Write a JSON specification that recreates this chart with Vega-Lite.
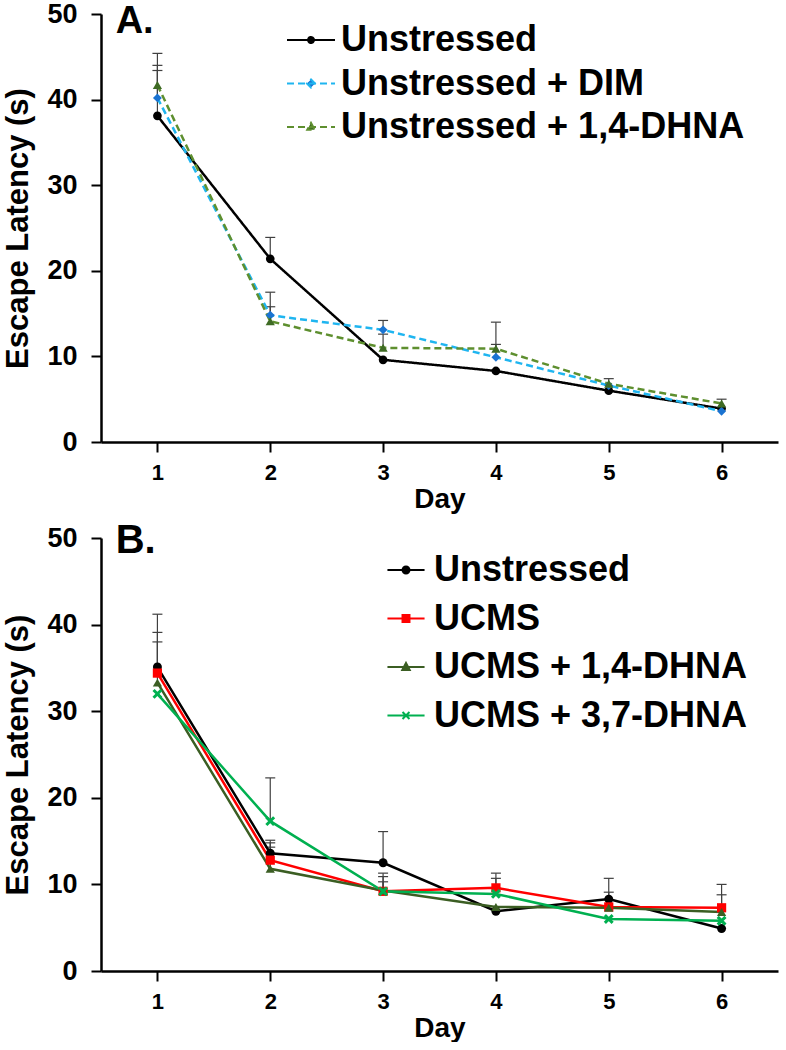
{
  "$schema": "https://vega.github.io/schema/vega-lite/v6.json",
  "background": "white",
  "padding": {"top": 0, "left": 2, "right": 2, "bottom": 0},
  "spacing": 7,
  "config": {
    "font": "Liberation Sans",
    "view": {"stroke": null},
    "axis": {
      "grid": false,
      "domainColor": "black",
      "domainWidth": 2.5,
      "tickColor": "black",
      "tickWidth": 2,
      "tickSize": 10,
      "labelColor": "black",
      "labelFontWeight": "bold",
      "titleColor": "black",
      "titleFontWeight": "bold",
      "labelFont": "Liberation Sans",
      "titleFont": "Liberation Sans"
    },
    "legend": {"labelFont": "Liberation Sans"}
  },
  "datasets": {
    "A": [
      {"series": "Unstressed", "day": 1, "mean": 38.1, "upper": 43.4},
      {"series": "Unstressed", "day": 2, "mean": 21.4, "upper": 23.9},
      {"series": "Unstressed", "day": 3, "mean": 9.6, "upper": null},
      {"series": "Unstressed", "day": 4, "mean": 8.3, "upper": null},
      {"series": "Unstressed", "day": 5, "mean": 6.0, "upper": null},
      {"series": "Unstressed", "day": 6, "mean": 3.9, "upper": null},
      {"series": "Unstressed + DIM", "day": 1, "mean": 40.2, "upper": 44.0},
      {"series": "Unstressed + DIM", "day": 2, "mean": 14.8, "upper": 17.5},
      {"series": "Unstressed + DIM", "day": 3, "mean": 13.1, "upper": 14.2},
      {"series": "Unstressed + DIM", "day": 4, "mean": 9.9, "upper": 11.4},
      {"series": "Unstressed + DIM", "day": 5, "mean": 6.6, "upper": null},
      {"series": "Unstressed + DIM", "day": 6, "mean": 3.6, "upper": null},
      {"series": "Unstressed + 1,4-DHNA", "day": 1, "mean": 41.7, "upper": 45.4},
      {"series": "Unstressed + 1,4-DHNA", "day": 2, "mean": 14.1, "upper": 15.8},
      {"series": "Unstressed + 1,4-DHNA", "day": 3, "mean": 11.0, "upper": 12.6},
      {"series": "Unstressed + 1,4-DHNA", "day": 4, "mean": 10.9, "upper": 14.0},
      {"series": "Unstressed + 1,4-DHNA", "day": 5, "mean": 6.8, "upper": 7.4},
      {"series": "Unstressed + 1,4-DHNA", "day": 6, "mean": 4.5, "upper": 5.0}
    ],
    "B": [
      {"series": "Unstressed", "day": 1, "mean": 35.1, "upper": 41.2},
      {"series": "Unstressed", "day": 2, "mean": 13.6, "upper": 15.1},
      {"series": "Unstressed", "day": 3, "mean": 12.5, "upper": 16.1},
      {"series": "Unstressed", "day": 4, "mean": 6.9, "upper": null},
      {"series": "Unstressed", "day": 5, "mean": 8.3, "upper": 10.7},
      {"series": "Unstressed", "day": 6, "mean": 4.9, "upper": null},
      {"series": "UCMS", "day": 1, "mean": 34.4, "upper": 39.1},
      {"series": "UCMS", "day": 2, "mean": 12.8, "upper": 14.8},
      {"series": "UCMS", "day": 3, "mean": 9.2, "upper": 11.3},
      {"series": "UCMS", "day": 4, "mean": 9.6, "upper": 11.3},
      {"series": "UCMS", "day": 5, "mean": 7.4, "upper": 9.1},
      {"series": "UCMS", "day": 6, "mean": 7.3, "upper": 10.0},
      {"series": "UCMS + 1,4-DHNA", "day": 1, "mean": 33.3, "upper": 38.0},
      {"series": "UCMS + 1,4-DHNA", "day": 2, "mean": 11.8, "upper": 14.3},
      {"series": "UCMS + 1,4-DHNA", "day": 3, "mean": 9.3, "upper": 10.9},
      {"series": "UCMS + 1,4-DHNA", "day": 4, "mean": 7.4, "upper": null},
      {"series": "UCMS + 1,4-DHNA", "day": 5, "mean": 7.3, "upper": null},
      {"series": "UCMS + 1,4-DHNA", "day": 6, "mean": 6.8, "upper": 8.8},
      {"series": "UCMS + 3,7-DHNA", "day": 1, "mean": 32.0, "upper": null},
      {"series": "UCMS + 3,7-DHNA", "day": 2, "mean": 17.3, "upper": 22.3},
      {"series": "UCMS + 3,7-DHNA", "day": 3, "mean": 9.2, "upper": 10.3},
      {"series": "UCMS + 3,7-DHNA", "day": 4, "mean": 8.9, "upper": 10.7},
      {"series": "UCMS + 3,7-DHNA", "day": 5, "mean": 6.0, "upper": null},
      {"series": "UCMS + 3,7-DHNA", "day": 6, "mean": 5.8, "upper": null}
    ],
    "labelA": [{"label": "A."}],
    "labelB": [{"label": "B."}]
  },
  "resolve": {
    "scale": {"color": "independent", "strokeDash": "independent"},
    "legend": {"color": "independent"}
  },
  "vconcat": [
    {
      "width": 677,
      "height": 428,
      "data": {"name": "A"},
      "layer": [
        {
          "transform": [{"filter": "datum.upper != null"}],
          "mark": {"type": "rule", "color": "#404040", "strokeWidth": 1.2},
          "encoding": {
            "x": {"field": "day", "type": "quantitative", "scale": {"domain": [0.5, 6.5], "nice": false},
              "axis": {"values": [1, 2, 3, 4, 5, 6], "format": "d", "title": "Day", "labelFontSize": 22, "titleFontSize": 28, "labelPadding": 10, "titlePadding": 2}},
            "y": {"field": "mean", "type": "quantitative", "scale": {"domain": [0, 50], "nice": false},
              "axis": {"values": [0, 10, 20, 30, 40, 50], "title": "Escape Latency (s)", "labelFontSize": 27, "titleFontSize": 31, "labelPadding": 14, "titlePadding": 12}},
            "y2": {"field": "upper"}
          }
        },
        {
          "transform": [{"filter": "datum.upper != null"}],
          "mark": {"type": "point", "shape": "M-1,0H1", "size": 100, "filled": false, "stroke": "#404040", "strokeWidth": 1.2, "opacity": 1},
          "encoding": {
            "x": {"field": "day", "type": "quantitative"},
            "y": {"field": "upper", "type": "quantitative"}
          }
        },
        {
          "mark": {"type": "line", "strokeWidth": 2.5},
          "encoding": {
            "x": {"field": "day", "type": "quantitative"},
            "y": {"field": "mean", "type": "quantitative"},
            "color": {"field": "series", "type": "nominal",
              "scale": {"domain": ["Unstressed", "Unstressed + DIM", "Unstressed + 1,4-DHNA"], "range": ["#000000", "#1fb5f0", "#5e8f2f"]},
              "legend": {
                "orient": "none", "legendX": 192, "legendY": 8, "title": null, "padding": 0,
                "symbolSize": 900, "symbolType": "M-1.6,0H1.6",
                "labelFontSize": 36, "labelFontWeight": "bold", "labelColor": "black", "labelOffset": 12, "rowPadding": 7.5,
                "labelLimit": 600,
                "encode": {"symbols": {"update": {
                  "shape": {"signal": "datum.value === 'Unstressed' ? 'M-1.6,0H1.6M-0.2,0A0.2,0.2 0 1,0 0.2,0A0.2,0.2 0 1,0 -0.2,0Z' : datum.value === 'Unstressed + DIM' ? 'M-1.6,0H1.6M0,-0.27L0.27,0L0,0.27L-0.27,0Z' : 'M-1.6,0H1.6M0,-0.28L0.25,0.18H-0.25Z'"},
                  "fill": {"signal": "datum.value === 'Unstressed' ? '#000000' : datum.value === 'Unstressed + DIM' ? '#1a73d1' : '#3f6b24'"},
                  "stroke": {"signal": "datum.value === 'Unstressed' ? '#000000' : datum.value === 'Unstressed + DIM' ? '#1fb5f0' : '#5e8f2f'"},
                  "strokeWidth": {"value": 2},
                  "strokeDash": {"signal": "datum.value === 'Unstressed' ? [1, 0] : [4, 3]"},
                  "opacity": {"value": 1}
                }}}
              }},
            "strokeDash": {"field": "series", "type": "nominal",
              "scale": {"domain": ["Unstressed", "Unstressed + DIM", "Unstressed + 1,4-DHNA"], "range": [[1, 0], [7, 4], [7, 4]]},
              "legend": null}
          }
        },
        {
          "transform": [{"filter": "datum.series === 'Unstressed'"}],
          "mark": {"type": "point", "filled": true, "size": 75, "opacity": 1, "shape": "circle", "color": "#000000"},
          "encoding": {"x": {"field": "day", "type": "quantitative"}, "y": {"field": "mean", "type": "quantitative"}}
        },
        {
          "transform": [{"filter": "datum.series === 'Unstressed + DIM'"}],
          "mark": {"type": "point", "filled": true, "size": 80, "opacity": 1, "shape": "diamond", "color": "#1a73d1"},
          "encoding": {"x": {"field": "day", "type": "quantitative"}, "y": {"field": "mean", "type": "quantitative"}}
        },
        {
          "transform": [{"filter": "datum.series === 'Unstressed + 1,4-DHNA'"}],
          "mark": {"type": "point", "filled": true, "size": 85, "opacity": 1, "shape": "triangle-up", "color": "#3f6b24"},
          "encoding": {"x": {"field": "day", "type": "quantitative"}, "y": {"field": "mean", "type": "quantitative"}}
        },
        {
          "data": {"name": "labelA"},
          "mark": {"type": "text", "fontSize": 38, "fontWeight": "bold", "align": "left", "baseline": "alphabetic", "color": "black"},
          "encoding": {
            "x": {"datum": 0.63, "type": "quantitative"},
            "y": {"datum": 47.8, "type": "quantitative"},
            "text": {"field": "label"}
          }
        }
      ]
    },
    {
      "width": 677,
      "height": 433,
      "data": {"name": "B"},
      "layer": [
        {
          "transform": [{"filter": "datum.upper != null"}],
          "mark": {"type": "rule", "color": "#404040", "strokeWidth": 1.2},
          "encoding": {
            "x": {"field": "day", "type": "quantitative", "scale": {"domain": [0.5, 6.5], "nice": false},
              "axis": {"values": [1, 2, 3, 4, 5, 6], "format": "d", "title": "Day", "labelFontSize": 22, "titleFontSize": 28, "labelPadding": 10, "titlePadding": 2}},
            "y": {"field": "mean", "type": "quantitative", "scale": {"domain": [0, 50], "nice": false},
              "axis": {"values": [0, 10, 20, 30, 40, 50], "title": "Escape Latency (s)", "labelFontSize": 27, "titleFontSize": 31, "labelPadding": 14, "titlePadding": 12}},
            "y2": {"field": "upper"}
          }
        },
        {
          "transform": [{"filter": "datum.upper != null"}],
          "mark": {"type": "point", "shape": "M-1,0H1", "size": 100, "filled": false, "stroke": "#404040", "strokeWidth": 1.2, "opacity": 1},
          "encoding": {
            "x": {"field": "day", "type": "quantitative"},
            "y": {"field": "upper", "type": "quantitative"}
          }
        },
        {
          "mark": {"type": "line", "strokeWidth": 2.5},
          "encoding": {
            "x": {"field": "day", "type": "quantitative"},
            "y": {"field": "mean", "type": "quantitative"},
            "color": {"field": "series", "type": "nominal",
              "scale": {"domain": ["Unstressed", "UCMS", "UCMS + 1,4-DHNA", "UCMS + 3,7-DHNA"], "range": ["#000000", "#ff0000", "#3b5e23", "#00b050"]},
              "legend": {
                "orient": "none", "legendX": 287, "legendY": 14, "title": null, "padding": 0,
                "symbolSize": 538, "symbolType": "M-1.6,0H1.6",
                "labelFontSize": 36, "labelFontWeight": "bold", "labelColor": "black", "labelOffset": 10, "rowPadding": 12.5,
                "labelLimit": 600,
                "encode": {"symbols": {"update": {
                  "shape": {"signal": "datum.value === 'Unstressed' ? 'M-1.6,0H1.6M-0.3,0A0.3,0.3 0 1,0 0.3,0A0.3,0.3 0 1,0 -0.3,0Z' : datum.value === 'UCMS' ? 'M-1.6,0H1.6M-0.3,-0.3H0.3V0.3H-0.3Z' : datum.value === 'UCMS + 1,4-DHNA' ? 'M-1.6,0H1.6M0,-0.35L0.32,0.25H-0.32Z' : 'M-1.6,0H1.6M-0.3,-0.3L0.3,0.3M-0.3,0.3L0.3,-0.3'"},
                  "fill": {"signal": "datum.value === 'Unstressed' ? '#000000' : datum.value === 'UCMS' ? '#ff0000' : datum.value === 'UCMS + 1,4-DHNA' ? '#3b5e23' : '#00b050'"},
                  "stroke": {"signal": "datum.value === 'Unstressed' ? '#000000' : datum.value === 'UCMS' ? '#ff0000' : datum.value === 'UCMS + 1,4-DHNA' ? '#3b5e23' : '#00b050'"},
                  "strokeWidth": {"value": 2},
                  "opacity": {"value": 1}
                }}}
              }}
          }
        },
        {
          "transform": [{"filter": "datum.series === 'Unstressed'"}],
          "mark": {"type": "point", "filled": true, "size": 80, "opacity": 1, "shape": "circle", "color": "#000000"},
          "encoding": {"x": {"field": "day", "type": "quantitative"}, "y": {"field": "mean", "type": "quantitative"}}
        },
        {
          "transform": [{"filter": "datum.series === 'UCMS'"}],
          "mark": {"type": "point", "filled": true, "size": 85, "opacity": 1, "shape": "square", "color": "#ff0000"},
          "encoding": {"x": {"field": "day", "type": "quantitative"}, "y": {"field": "mean", "type": "quantitative"}}
        },
        {
          "transform": [{"filter": "datum.series === 'UCMS + 1,4-DHNA'"}],
          "mark": {"type": "point", "filled": true, "size": 85, "opacity": 1, "shape": "triangle-up", "color": "#3b5e23"},
          "encoding": {"x": {"field": "day", "type": "quantitative"}, "y": {"field": "mean", "type": "quantitative"}}
        },
        {
          "transform": [{"filter": "datum.series === 'UCMS + 3,7-DHNA'"}],
          "mark": {"type": "point", "filled": false, "size": 60, "opacity": 1, "shape": "M-1,-1L1,1M-1,1L1,-1", "color": "#00b050", "strokeWidth": 3},
          "encoding": {"x": {"field": "day", "type": "quantitative"}, "y": {"field": "mean", "type": "quantitative"}}
        },
        {
          "data": {"name": "labelB"},
          "mark": {"type": "text", "fontSize": 40, "fontWeight": "bold", "align": "left", "baseline": "alphabetic", "color": "black"},
          "encoding": {
            "x": {"datum": 0.63, "type": "quantitative"},
            "y": {"datum": 48.3, "type": "quantitative"},
            "text": {"field": "label"}
          }
        }
      ]
    }
  ]
}
